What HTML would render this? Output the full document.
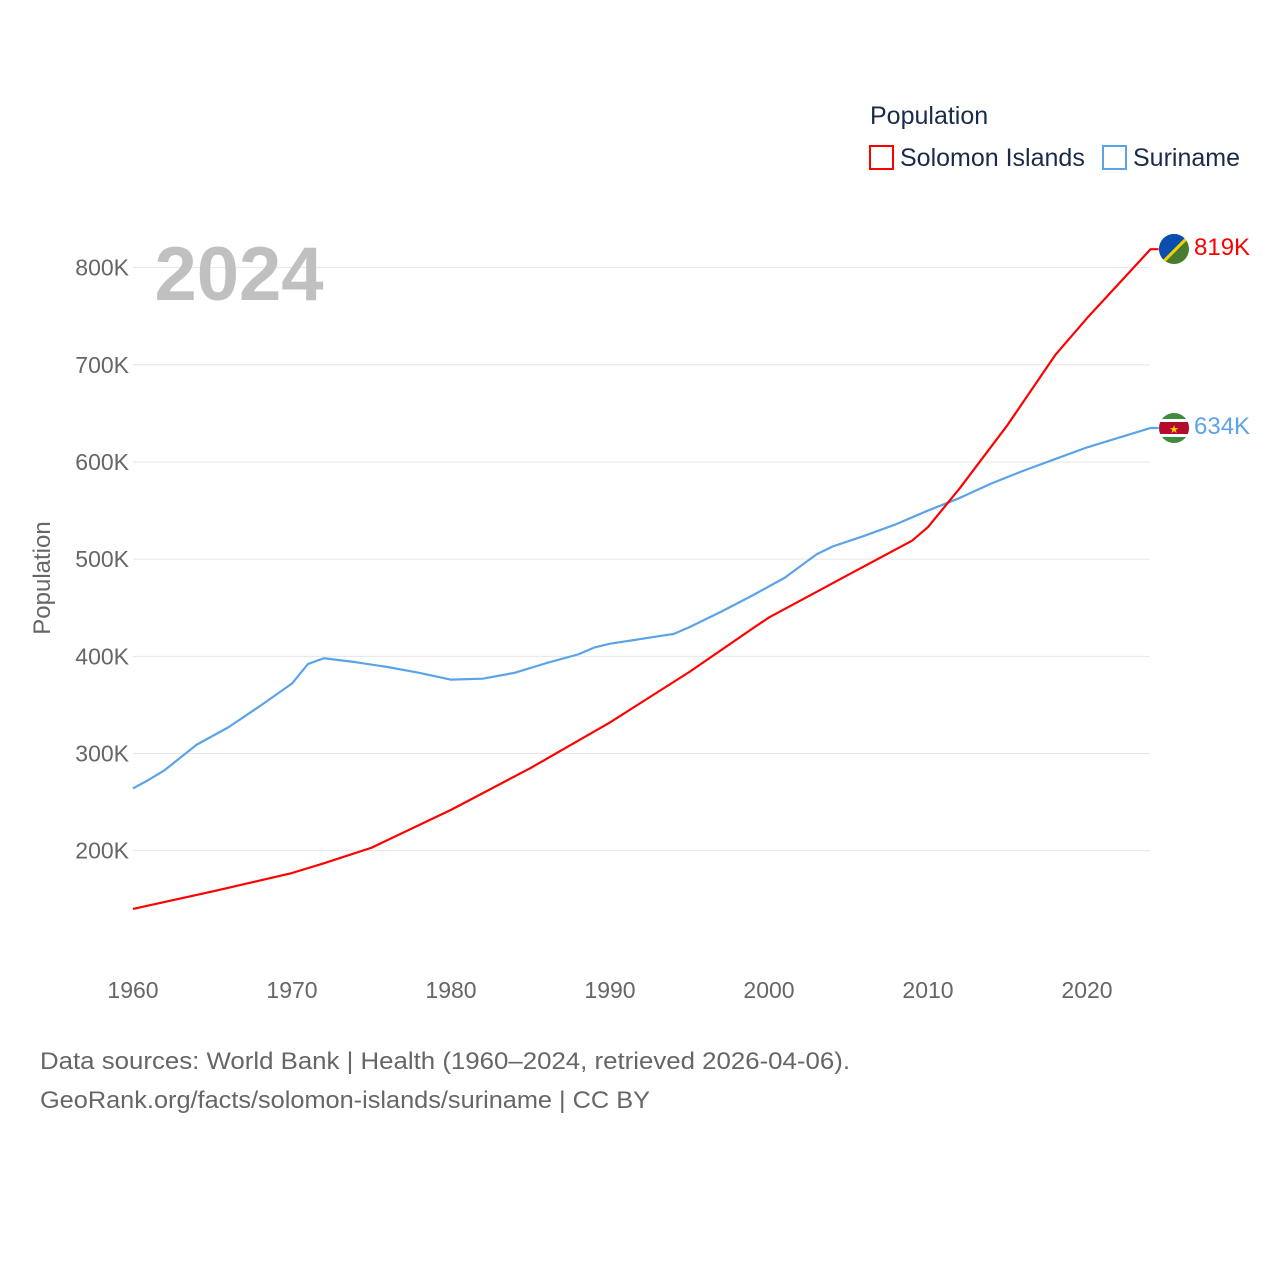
<!DOCTYPE html>
<html><head><meta charset="utf-8"><style>
body{margin:0;background:#fff;font-family:"Liberation Sans",sans-serif}
svg text{font-family:"Liberation Sans",sans-serif}
</style></head><body>
<svg id="chart" width="1280" height="1280" viewBox="0 0 1280 1280">
<g id="grid"></g>
<g id="yticks"></g>
<g id="xticks"></g>
<text x="239" y="300" font-size="76" font-weight="bold" fill="#c0c0c0" text-anchor="middle">2024</text>
<text transform="translate(50,578) rotate(-90)" font-size="24" fill="#666" text-anchor="middle">Population</text>
<g id="series"></g>
<text x="870" y="124" font-size="25" fill="#1a2b4a">Population</text>
<g><rect x="870" y="146" width="23" height="23" fill="none" stroke="#ff0000" stroke-width="2"/><text x="900" y="166" font-size="25" fill="#1a2b4a">Solomon Islands</text></g>
<g><rect x="1103" y="146" width="23" height="23" fill="none" stroke="#5ba3e8" stroke-width="2"/><text x="1133" y="166" font-size="25" fill="#1a2b4a">Suriname</text></g>
<g><clipPath id="c1"><circle cx="1174" cy="249" r="15"/></clipPath><g clip-path="url(#c1)"><rect x="1159" y="234" width="30" height="30" fill="#4a7c2e"/><polygon points="1159,234 1189,234 1159,264" fill="#0a4fb0"/><line x1="1159" y1="266" x2="1191" y2="234" stroke="#f7d000" stroke-width="3"/></g></g>
<text x="1194" y="255" font-size="24" fill="#ff0000">819K</text>
<g><clipPath id="c2"><circle cx="1174" cy="428" r="15"/></clipPath><g clip-path="url(#c2)"><rect x="1159" y="413" width="30" height="30" fill="#3e8a3e"/><rect x="1159" y="419" width="30" height="18" fill="#fff"/><rect x="1159" y="422" width="30" height="12" fill="#b40a2d"/><text x="1174" y="433" font-size="11" fill="#f7d000" text-anchor="middle">★</text></g></g>
<text x="1194" y="434" font-size="24" fill="#5ba3e8">634K</text>
<text x="40" y="1069" font-size="24" fill="#666" textLength="810" lengthAdjust="spacingAndGlyphs">Data sources: World Bank | Health (1960–2024, retrieved 2026-04-06).</text>
<text x="40" y="1108" font-size="24" fill="#666" textLength="610" lengthAdjust="spacingAndGlyphs">GeoRank.org/facts/solomon-islands/suriname | CC BY</text>
</svg>
<script>
const yTickValues=[200,300,400,500,600,700,800];
const xTickYears=[1960,1970,1980,1990,2000,2010,2020];
const solomonYears=[1960,1965,1970,1972,1975,1980,1985,1990,1995,1999,2000,2005,2009,2010,2012,2015,2018,2020,2024];
const solomonValues=[140,158,177,187,203,242,285,332,384,429,440,484,519,533,573,638,710,748,819];
const surinameYears=[1960,1961,1962,1964,1966,1968,1970,1971,1972,1974,1976,1978,1980,1982,1984,1986,1988,1989,1990,1992,1994,1995,1997,1999,2001,2003,2004,2006,2008,2010,2012,2014,2016,2018,2020,2022,2024];
const surinameValues=[264,273,283,309,327,349,372,392,398,394,389,383,376,377,383,393,402,409,413,418,423,430,446,463,481,505,513,524,536,550,563,578,591,603,615,625,635];
const X=y=>133+(y-1960)*(1087-133)/60;
const Y=v=>1045-v*0.9717;
const NS="http://www.w3.org/2000/svg";
const mk=(t,a,p)=>{const e=document.createElementNS(NS,t);for(const k in a)e.setAttribute(k,a[k]);p.appendChild(e);return e;};
const grid=document.getElementById('grid'),yt=document.getElementById('yticks'),xt=document.getElementById('xticks');
yTickValues.forEach(v=>{
 const l=mk('line',{x1:133,x2:1150,y1:Y(v),y2:Y(v),stroke:'#e6e6e6','stroke-width':1},grid);
 
 
 const t=mk('text',{x:129,y:Y(v)+8,'font-size':23,fill:'#666','text-anchor':'end'},yt);
 t.textContent=v+'K';
 
 
});
xTickYears.forEach(y=>{
 const t=mk('text',{x:X(y),y:998,'font-size':23,fill:'#666','text-anchor':'middle'},xt);
 t.textContent=y;
 
 
});
const s=document.getElementById('series');
function line(ys,vs,c,name){
 const pts=ys.map((y,i)=>X(y)+','+Y(vs[i]));
 pts.push((X(ys[ys.length-1])+8)+','+Y(vs[vs.length-1]));
 const p=mk('polyline',{points:pts.join(' '),fill:'none',stroke:c,'stroke-width':2.2,'stroke-linejoin':'round'},s);
 
 
}
line(surinameYears,surinameValues,'#5ba3e8','line-suriname');
line(solomonYears,solomonValues,'#ff0000','line-solomon-islands');
</script>
</body></html>
